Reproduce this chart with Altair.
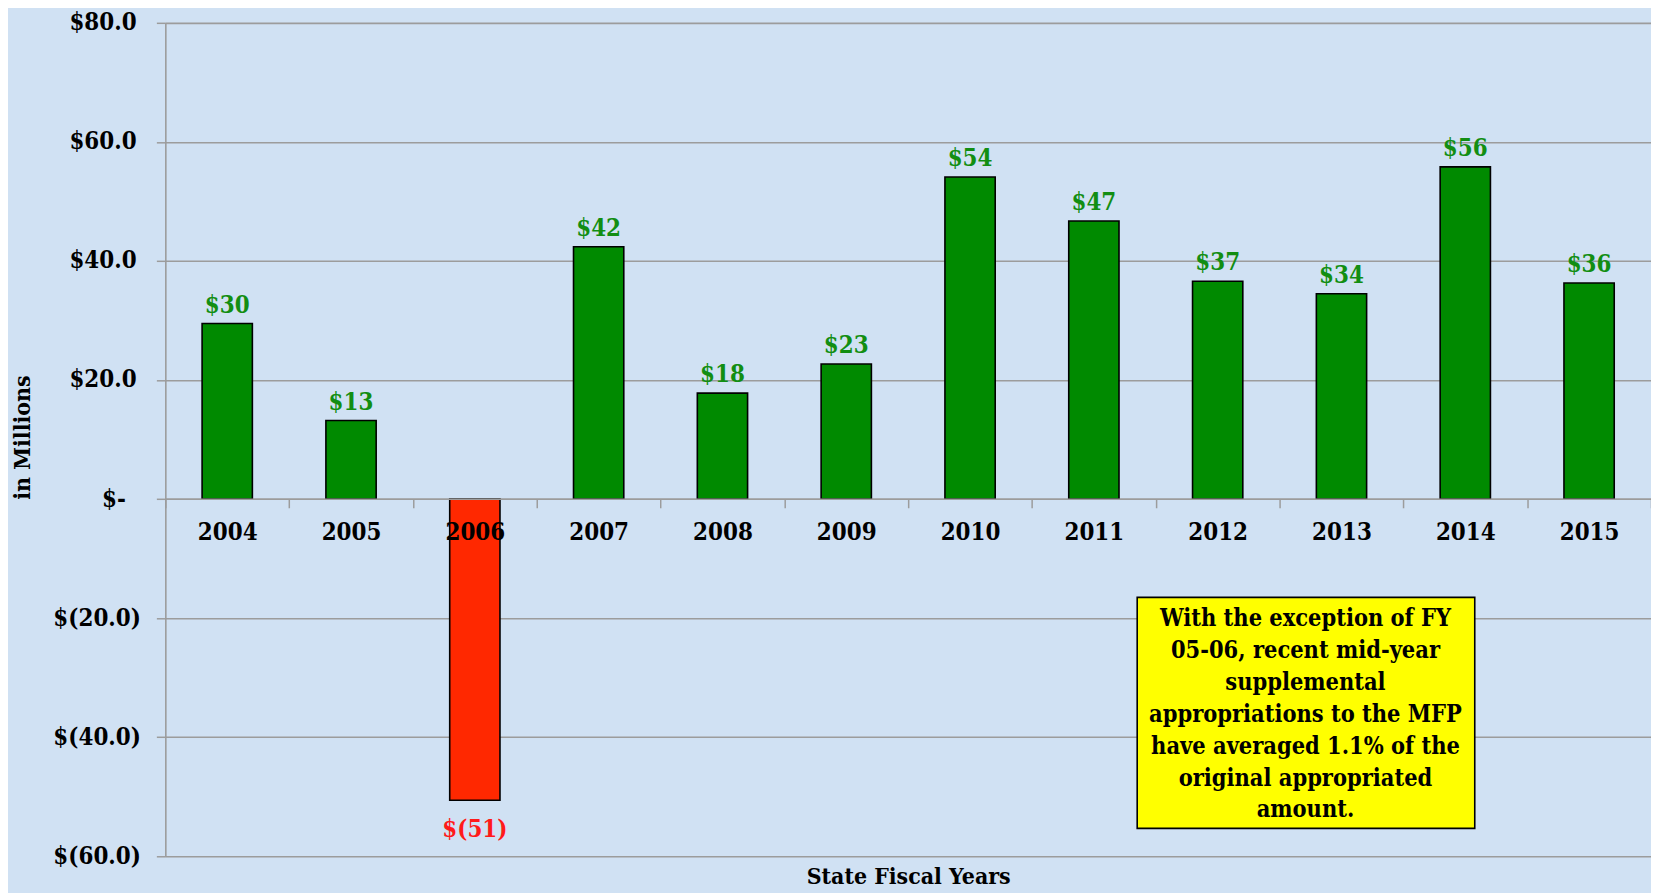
import altair as alt
import pandas as pd

years = ["2004", "2005", "2006", "2007", "2008", "2009", "2010", "2011", "2012", "2013", "2014", "2015"]
values = [29.5, 13.2, -50.6, 42.4, 17.8, 22.7, 54.1, 46.7, 36.6, 34.5, 55.8, 36.3]
labels = ["$30", "$13", "$(51)", "$42", "$18", "$23", "$54", "$47", "$37", "$34", "$56", "$36"]
y_ticks = [-60, -40, -20, 0, 20, 40, 60, 80]
note_lines = [
    "With the exception of FY",
    "05-06, recent mid-year",
    "supplemental",
    "appropriations to the MFP",
    "have averaged 1.1% of the",
    "original appropriated",
    "amount.",
]

df = pd.DataFrame({"year": years, "value": values, "label": labels})
df["sign"] = ["pos" if v >= 0 else "neg" for v in values]

FONT = "DejaVu Serif Condensed"
GRID = "#9C9C9C"
BG = "#D0E1F3"
W, H = 1492, 837

y_label_expr = (
    "datum.value == 0 ? '$-\u00a0\u00a0\u200b' : datum.value > 0 ? '$' + format(datum.value, '.1f') + '\u2009\u200b' "
    ": '$(' + format(-datum.value, '.1f') + ')'"
)

x_enc = alt.X(
    "year:N",
    sort=years,
    scale=alt.Scale(paddingInner=0, paddingOuter=0),
    axis=alt.Axis(
        title="State Fiscal Years",
        offset=-359,
        zindex=1,
        tickBand="extent",
        tickSize=9,
        tickWidth=1.5,
        tickColor=GRID,
        domainColor=GRID,
        domainWidth=1.6,
        labelAngle=0,
        labelFont=FONT,
        labelFontSize=24,
        labelFontWeight="bold",
        labelColor="black",
        labelBaseline="middle",
        labelPadding=25,
        titleFont=FONT,
        titleFontSize=23,
        titleFontWeight="bold",
        titleColor="black",
        titleY=379,
        titleBaseline="middle",
    ),
)

y_enc = alt.Y(
    "value:Q",
    scale=alt.Scale(domain=[-60, 80], nice=False, zero=True),
    axis=alt.Axis(
        values=y_ticks,
        labelExpr=y_label_expr,
        title="in Millions",
        titleX=-143,
        titleY=416,
        titleAngle=270,
        titleAlign="center",
        titleBaseline="middle",
        titleFont=FONT,
        titleFontSize=23,
        titleFontWeight="bold",
        titleColor="black",
        labelFont=FONT,
        labelFontSize=24,
        labelFontWeight="bold",
        labelColor="black",
        labelPadding=16,
        tickSize=9,
        tickWidth=1.5,
        tickColor=GRID,
        domainColor=GRID,
        domainWidth=1.6,
        gridColor=GRID,
        gridWidth=1.6,
        grid=True,
    ),
)

base = alt.Chart(df)

bars = base.mark_bar(width={"band": 0.406}, stroke="black", strokeWidth=1.6).encode(
    x=x_enc,
    y=y_enc,
    color=alt.Color("sign:N", scale=alt.Scale(domain=["pos", "neg"], range=["#008A00", "#FF2800"]), legend=None),
)

pos_labels = base.transform_filter("datum.value >= 0").mark_text(
    font=FONT, fontSize=24, fontWeight="bold", color="#128E12", baseline="alphabetic", dy=-11
).encode(x=alt.X("year:N", sort=years), y="value:Q", text="label:N")

neg_labels = base.transform_filter("datum.value < 0").mark_text(
    font=FONT, fontSize=24, fontWeight="bold", color="#FF1A1A", baseline="top", dy=18
).encode(x=alt.X("year:N", sort=years), y="value:Q", text="label:N")

note_df = pd.DataFrame({"note": ["box"]})
note_box = alt.Chart(note_df).mark_rect(fill="#FFFF00", stroke="black", strokeWidth=1.6).encode(
    x=alt.value(976), x2=alt.value(1315), y=alt.value(577), y2=alt.value(809)
)
note_text = alt.Chart(note_df).mark_text(
    text=note_lines, font=FONT, fontSize=23.5, fontWeight="bold", color="black",
    align="center", baseline="middle", lineHeight=32
).encode(x=alt.value(1145), y=alt.value(599))

chart = (
    alt.layer(bars, pos_labels, neg_labels, note_box, note_text)
    .properties(
        width=W,
        height=H,
        background=BG,
        autosize=alt.AutoSizeParams(type="none"),
        padding={"left": 158, "top": 13, "right": 0, "bottom": 40},
    )
    .configure_view(stroke=None)
)

chart.save("out.html", embed_options={"renderer": "svg", "actions": False})
